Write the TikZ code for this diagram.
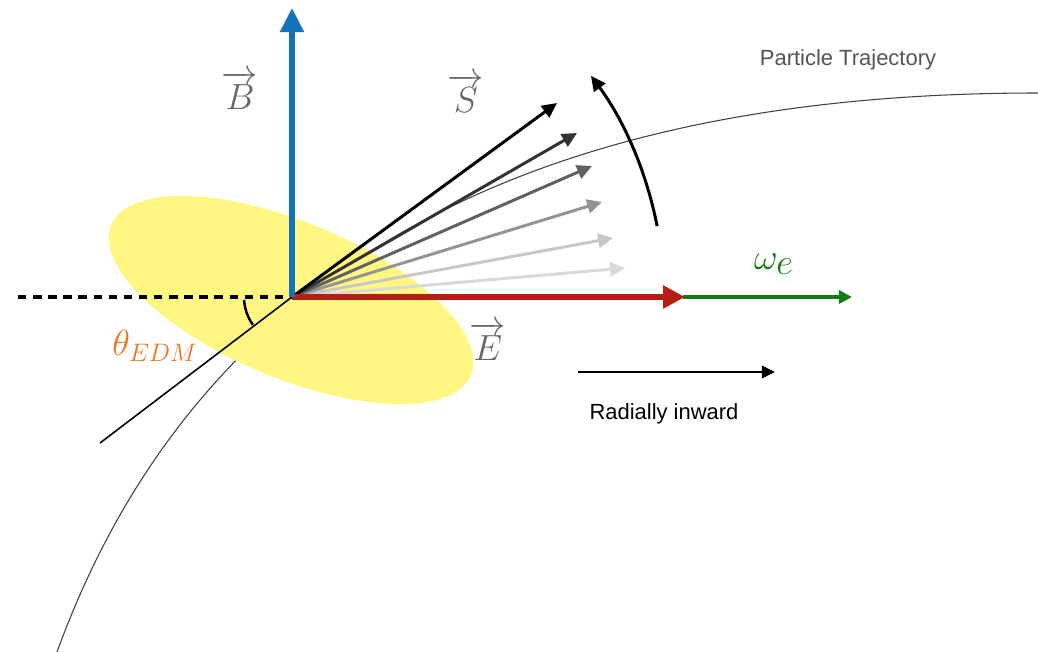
\documentclass[tikz,border=0pt]{standalone}
\usepackage{amsmath}
\usepackage{fontspec}
\newfontfamily\labelfont{Liberation Sans}
\usetikzlibrary{arrows.meta}
\definecolor{fieldblue}{RGB}{18,115,186}
\definecolor{efieldred}{RGB}{180,30,22}
\definecolor{omegagreen}{RGB}{22,122,22}
\definecolor{edmorange}{RGB}{237,118,38}
\definecolor{diskyellow}{RGB}{255,247,130}
\definecolor{labelgray}{RGB}{102,102,102}

\begin{document}
\begin{tikzpicture}[x=0.02cm,y=-0.02cm,
          vecl/.style={text=labelgray,font=\fontsize{20.8}{24}\selectfont},
          spin/.style={line width=1.7pt,-{Triangle[length=8.5pt,width=8pt]}},
          sans/.style={font=\labelfont\fontsize{12.5}{15}\selectfont}]
        \useasboundingbox (0,0) rectangle (1038,652);
        \coordinate (O) at (292,297);
        \coordinate (btip) at (292,8);
        \coordinate (etip) at (685,297);
        \coordinate (wbase) at (683,297);
        \coordinate (wtip) at (852,297);
        \coordinate (dash) at (18,297);
        \coordinate (tend) at (100,443);
        \coordinate (s1) at (557,103);
        \coordinate (s2) at (577,133);
        \coordinate (s3) at (592,166);
        \coordinate (s4) at (602,202);
        \coordinate (s5) at (613,238);
        \coordinate (s6) at (625,268);
        \coordinate (rin) at (578,372);
        \coordinate (rout) at (775,372);
        \coordinate (tr0) at (57,652);
        \coordinate (tr1) at (1038,93);
        % trajectory, then the disk on top of it
        \draw[black!75,line width=0.6pt] (tr0) .. controls (211,229) and (588,93) .. (tr1);
        \fill[diskyellow,rotate around={-22.7:(291,300)}] (291,300)
          ellipse[x radius=3.9cm,y radius=1.56cm];
        \draw[line width=2.3pt,dash pattern=on 4.8pt off 3.8pt] (dash) -- (O);
        \draw[line width=0.9pt] (tend) -- (O);
        \draw[line width=1.4pt] (O) ++(183.5:0.96cm) arc[start angle=183.5,end angle=215.4,radius=0.96cm];
        % spin directions
        \draw[spin,black!15] (O) -- (s6);
        \draw[spin,black!22] (O) -- (s5);
        \draw[spin,black!42] (O) -- (s4);
        \draw[spin,black!62] (O) -- (s3);
        \draw[spin,black!80] (O) -- (s2);
        \draw[spin,black] (O) -- (s1);
        \draw[line width=1.7pt,-{Triangle[length=8.5pt,width=8pt]}] (O) ++(11:7.44cm)
          arc[start angle=11,end angle=36.5,radius=7.44cm];
        % fields
        \draw[omegagreen,line width=1.9pt,-{Triangle[length=7.5pt,width=7.5pt]}] (wbase) -- (wtip);
        \draw[efieldred,line width=3.7pt,-{Triangle[length=12.5pt,width=12.5pt]}] (O) -- (etip);
        \draw[fieldblue,line width=3.1pt,-{Triangle[length=13.7pt,width=13pt]}] (O) -- (btip);
        \draw[line width=1.5pt,-{Triangle[length=7.5pt,width=7pt]}] (rin) -- (rout);
        % labels
        \node[vecl] (blbl) at (240,90) {$\overrightarrow{B}$};
        \node[vecl] (slbl) at (466,93) {$\overrightarrow{S}$};
        \node[vecl] (elbl) at (488,341) {$\overrightarrow{E}$};
        \node[text=edmorange,font=\fontsize{20.8}{24}\selectfont] (thlbl) at (155,346) {$\theta_{EDM}$};
        \node[text=omegagreen,font=\fontsize{22}{26}\selectfont] (wlbl) at (774,264) {$\omega_{\textstyle e}$};
        \node[sans,text=black!67] (traj) at (848,60) {Particle Trajectory};
        \node[sans] (radial) at (664,414) {Radially inward};
      \end{tikzpicture}
\end{document}
